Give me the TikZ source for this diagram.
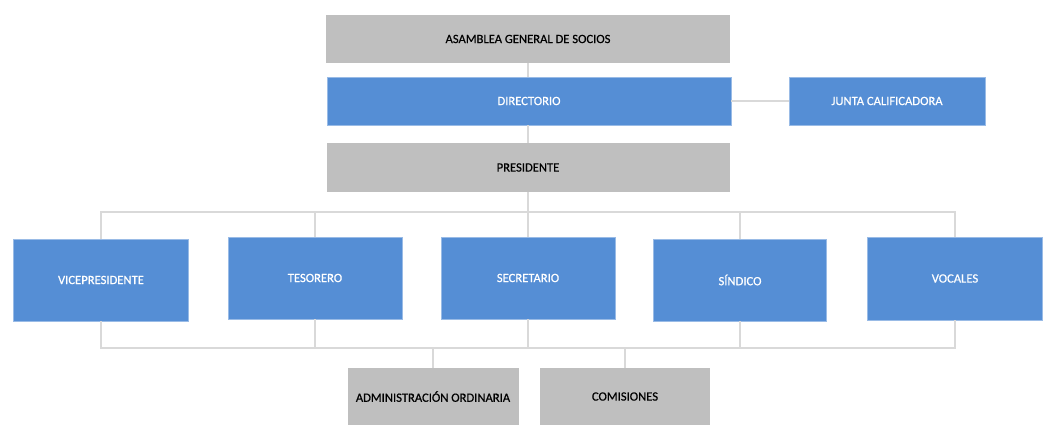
\documentclass[tikz,border=0pt]{standalone}
\usepackage{fontspec}
\setmainfont{Carlito}[FakeBold=0.6,BoldFont=Carlito]
\definecolor{bluebox}{HTML}{558ED5}
\definecolor{graybox}{HTML}{BFBFBF}
\definecolor{linegray}{HTML}{D9D9D9}
\tikzset{
  base/.style={rectangle, inner sep=0pt, font=\fontsize{12.6}{14}\selectfont\bfseries},
  gbox/.style={base, fill=graybox, text=black},
  bbox/.style={base, fill=bluebox, text=white, draw=bluebox!60!white, line width=0.6pt},
  conn/.style={draw=linegray, line width=2pt}
}
\begin{document}
\begin{tikzpicture}[x=1pt,y=-1pt]
\useasboundingbox[fill=white] (0,0) rectangle (1046,425);
% nodes
\node[gbox, minimum width=404pt, minimum height=48pt] (asam) at (528,39) {ASAMBLEA GENERAL DE SOCIOS};
\node[bbox, minimum width=404pt, minimum height=48pt] (dir) at (529,101) {DIRECTORIO};
\node[bbox, minimum width=196pt, minimum height=48pt] (junta) at (887,101) {JUNTA CALIFICADORA};
\node[gbox, minimum width=403pt, minimum height=49pt] (pres) at (528,167.5) {PRESIDENTE};
\node[bbox, minimum width=175pt, minimum height=82pt] (vice) at (101,280) {VICEPRESIDENTE};
\node[bbox, minimum width=174pt, minimum height=82pt] (tes) at (315,278) {TESORERO};
\node[bbox, minimum width=174pt, minimum height=82pt] (sec) at (528,278) {SECRETARIO};
\node[bbox, minimum width=173pt, minimum height=82pt] (sin) at (740,280) {SÍNDICO};
\node[bbox, minimum width=175pt, minimum height=83pt] (voc) at (955,278.5) {VOCALES};
\node[gbox, minimum width=171pt, minimum height=57pt, text depth=-6pt] (adm) at (433,396.5) {ADMINISTRACIÓN ORDINARIA};
\node[gbox, minimum width=170pt, minimum height=57pt, text depth=-6pt] (com) at (625,396.5) {COMISIONES};
\coordinate (bt) at (528,212);
\coordinate (bb) at (528,348);
% connectors
\path[conn] (asam.south) -- (asam.south |- dir.north);
\path[conn] (dir.south -| pres.north) -- (pres.north);
\path[conn] (dir.east) -- (junta.west);
\path[conn] (pres.south) -- (bt);
\path[conn] (vice.north) -- (vice.north |- bt) -- (voc.north |- bt) -- (voc.north);
\path[conn] (tes.north) -- (tes.north |- bt);
\path[conn] (sec.north) -- (sec.north |- bt);
\path[conn] (sin.north) -- (sin.north |- bt);
\path[conn] (vice.south) -- (vice.south |- bb) -- (voc.south |- bb) -- (voc.south);
\path[conn] (tes.south) -- (tes.south |- bb);
\path[conn] (sec.south) -- (sec.south |- bb);
\path[conn] (sin.south) -- (sin.south |- bb);
\path[conn] (adm.north) -- (adm.north |- bb);
\path[conn] (com.north) -- (com.north |- bb);
\end{tikzpicture}
\end{document}
